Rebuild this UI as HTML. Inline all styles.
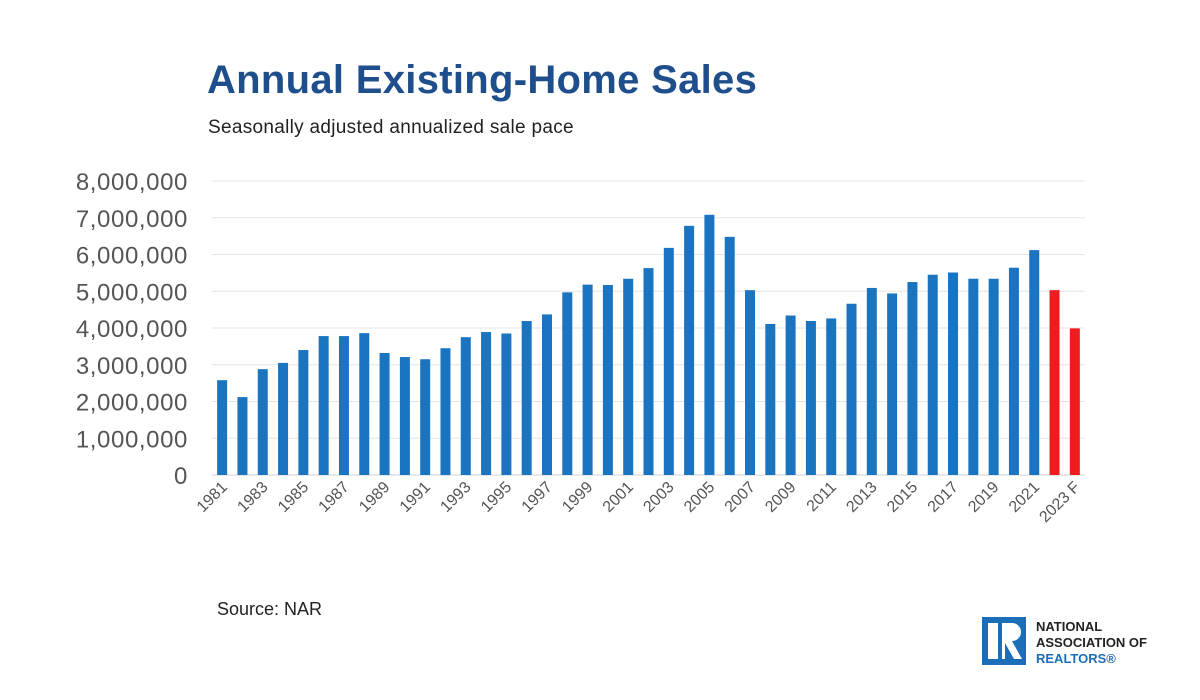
<!DOCTYPE html>
<html><head><meta charset="utf-8"><style>
body{margin:0;width:1200px;height:700px;background:#fff;overflow:hidden;font-family:"Liberation Sans",sans-serif;position:relative}
#title{position:absolute;left:207px;top:58px;font-size:40px;font-weight:bold;color:#1f4e8c;margin:0;letter-spacing:0.3px}
#sub{position:absolute;left:208px;top:117px;font-size:19px;color:#222;letter-spacing:0.3px}
#src{position:absolute;left:217px;top:599px;font-size:18px;color:#222}
</style></head><body>
<h1 id="title">Annual Existing-Home Sales</h1>
<div id="sub">Seasonally adjusted annualized sale pace</div>
<div id="src">Source: NAR</div>
<svg id="chart" width="1200" height="700" style="position:absolute;left:0;top:0"></svg>
<svg width="200" height="60" style="position:absolute;left:980px;top:612px">
<rect x="2" y="5" width="44" height="48" fill="#1c6eb8"/>
<rect x="8" y="11" width="10" height="36" fill="#fff"/>
<path d="M22 11 h10 a9 9 0 0 1 0 18 l10 18 h-8 l-9 -16 v16 h-3 z" fill="#fff"/>
<text x="56" y="19" font-size="13" font-weight="bold" fill="#222">NATIONAL</text>
<text x="56" y="35" font-size="13" font-weight="bold" fill="#222">ASSOCIATION OF</text>
<text x="56" y="51" font-size="13" font-weight="bold" fill="#1c6eb8">REALTORS®</text>
</svg>
<script>
const years=["1981","1982","1983","1984","1985","1986","1987","1988","1989","1990","1991","1992","1993","1994","1995","1996","1997","1998","1999","2000","2001","2002","2003","2004","2005","2006","2007","2008","2009","2010","2011","2012","2013","2014","2015","2016","2017","2018","2019","2020","2021","2022","2023 F"];
const sales=[2.58,2.12,2.88,3.05,3.40,3.78,3.78,3.86,3.32,3.21,3.15,3.45,3.75,3.89,3.85,4.19,4.37,4.97,5.18,5.17,5.34,5.63,6.18,6.78,7.08,6.48,5.03,4.11,4.34,4.19,4.26,4.66,5.09,4.94,5.25,5.45,5.51,5.34,5.34,5.64,6.12,5.03,3.99];
const forecast=[false,false,false,false,false,false,false,false,false,false,false,false,false,false,false,false,false,false,false,false,false,false,false,false,false,false,false,false,false,false,false,false,false,false,false,false,false,false,false,false,false,true,true];
const yTicks=[0,1,2,3,4,5,6,7,8];
const yTickLabels=["0","1,000,000","2,000,000","3,000,000","4,000,000","5,000,000","6,000,000","7,000,000","8,000,000"];
const NS="http://www.w3.org/2000/svg",svg=document.getElementById('chart');
const x0=212,x1=1085,y0=475,yTop=181;
const step=(x1-x0)/years.length;
const X=i=>x0+step*(i+0.5);
const Y=v=>y0-(v/8)*(y0-yTop);
function mk(t,a){const e=document.createElementNS(NS,t);for(const k in a)e.setAttribute(k,a[k]);svg.appendChild(e);return e;}
yTicks.forEach((v,i)=>{
 const g=mk('line',{x1:x0,x2:x1,y1:Y(v),y2:Y(v),stroke:v===0?'#d0d0d0':'#e6e6e6','stroke-width':1});
 
 
 const t=mk('text',{x:188,y:Y(v)+9,'text-anchor':'end','font-size':24,'letter-spacing':0.6,fill:'#555'});
 t.textContent=yTickLabels[i];
 
 
});
sales.forEach((v,i)=>{
 const r=mk('rect',{x:X(i)-5,y:Y(v),width:10,height:y0-Y(v),fill:forecast[i]?'#ee1c1c':'#1a74c0'});
 
 
});
years.forEach((yr,i)=>{
 if(i%2!==0&&i!==years.length-1)return;
 const cx=X(i)+6,cy=488;
 const t=mk('text',{x:cx,y:cy,'text-anchor':'end','font-size':16,fill:'#555',transform:`rotate(-45 ${cx} ${cy})`});
 t.textContent=yr;
 
 
});
</script>
</body></html>
